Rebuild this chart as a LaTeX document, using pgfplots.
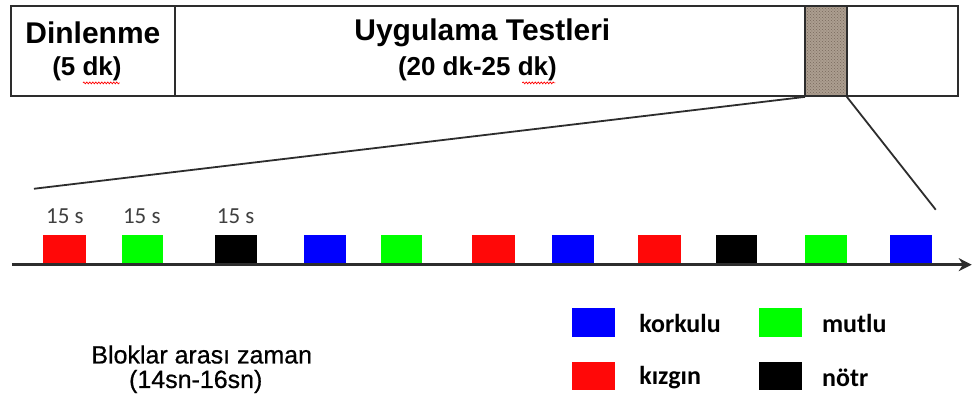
\documentclass[border=0pt]{standalone}
\usepackage{pgfplots}
\pgfplotsset{compat=1.18}
\usepackage{fontspec}
\setmainfont{Liberation Sans}
\newfontfamily\calibri{Carlito}
\newfontfamily\arialfb[FakeBold=0.6]{Liberation Sans}
\usetikzlibrary{arrows.meta,decorations.pathmorphing,patterns}
\definecolor{fred}{RGB}{255,8,8}
\definecolor{fgreen}{RGB}{0,255,0}
\definecolor{fblue}{RGB}{0,0,255}
\definecolor{fblack}{RGB}{0,0,0}
\definecolor{granite}{RGB}{172,158,144}
\definecolor{granited}{RGB}{120,105,92}
\definecolor{lineg}{RGB}{45,45,45}
\newcommand\blk[3]{\addplot[fill=#3,draw=none] coordinates {(#1,235) (#2,235) (#2,263) (#1,263)} -- cycle;}
\newcommand\leg[4]{\addplot[fill=#4,draw=none] coordinates {(#1,#3) (#2,#3) (#2,#3+29) (#1,#3+29)} -- cycle;}
\begin{document}
\begin{tikzpicture}
\begin{axis}[x=1pt, y=1pt, xmin=0, xmax=973, ymin=0, ymax=400, y dir=reverse,
  hide axis, clip=false, scale only axis]
\fill[white] (rel axis cs:0,0) rectangle (rel axis cs:1,1);
% top box
\addplot[fill=granite, draw=none] coordinates {(806,6) (848,6) (848,96) (806,96)} -- cycle;
\addplot[pattern=crosshatch dots, pattern color=granited, draw=none] coordinates {(806,6) (848,6) (848,96) (806,96)} -- cycle;
\addplot[lineg, line width=2pt] coordinates {(11,6) (959,6) (959,96) (11,96)} -- cycle;
\addplot[lineg, line width=2pt] coordinates {(175,6) (175,96)};
\addplot[lineg, line width=1.6pt] coordinates {(806,6) (806,96)};
\addplot[lineg, line width=1.6pt] coordinates {(848,6) (848,96)};
% zoom lines
\addplot[lineg, line width=1.8pt] coordinates {(806,97) (34,189)};
\addplot[lineg, line width=1.8pt] coordinates {(848,97) (937,210)};
% wavy underlines
\addplot[red, line width=0.7pt, decorate, decoration={snake, amplitude=0.9pt, segment length=3pt}] coordinates {(83,83) (120,83)};
\addplot[red, line width=0.7pt, decorate, decoration={snake, amplitude=0.9pt, segment length=3pt}] coordinates {(523,83) (556,83)};
% timeline
\addplot[lineg, line width=2.6pt, -{Stealth[length=13pt,width=13pt]}] coordinates {(12,265) (973,265)};
% blocks
\blk{43}{86}{fred}
\blk{122}{163}{fgreen}
\blk{215}{257}{fblack}
\blk{304}{346}{fblue}
\blk{382}{423}{fgreen}
\blk{473}{516}{fred}
\blk{553}{595}{fblue}
\blk{639}{682}{fred}
\blk{717}{758}{fblack}
\blk{806}{848}{fgreen}
\blk{891}{933}{fblue}
% legend
\leg{573}{616}{308}{fblue}
\leg{573}{616}{362}{fred}
\leg{760}{803}{308}{fgreen}
\leg{760}{803}{362}{fblack}
% texts
\node[font=\fontsize{30}{34}\selectfont\bfseries] at (axis cs:93,33) {Dinlenme};
\node[font=\fontsize{26}{30}\selectfont\bfseries] at (axis cs:87,69) {(5 dk)};
\node[font=\fontsize{30}{34}\selectfont\bfseries] at (axis cs:483,33) {Uygulama Testleri};
\node[font=\fontsize{26}{30}\selectfont\bfseries] at (axis cs:478,69) {(20 dk-25 dk)};
\node[font=\fontsize{23}{26}\selectfont\calibri, text=black!75] at (axis cs:65,216) {15 s};
\node[font=\fontsize{23}{26}\selectfont\calibri, text=black!75] at (axis cs:142,216) {15 s};
\node[font=\fontsize{23}{26}\selectfont\calibri, text=black!75] at (axis cs:236,216) {15 s};
\node[font=\fontsize{25}{29}\selectfont\arialfb] at (axis cs:202,355) {Bloklar arası zaman};
\node[font=\fontsize{25}{29}\selectfont\arialfb] at (axis cs:196,382) {(14sn-16sn)};
\node[font=\fontsize{26}{30}\selectfont\calibri\bfseries, anchor=west, inner sep=0pt] at (axis cs:640,324) {korkulu};
\node[font=\fontsize{26}{30}\selectfont\calibri\bfseries, anchor=west, inner sep=0pt] at (axis cs:823,324) {mutlu};
\node[font=\fontsize{26}{30}\selectfont\calibri\bfseries, anchor=west, inner sep=0pt] at (axis cs:640,378) {kızgın};
\node[font=\fontsize{26}{30}\selectfont\calibri\bfseries, anchor=west, inner sep=0pt] at (axis cs:823,378) {nötr};
\end{axis}
\end{tikzpicture}
\end{document}
